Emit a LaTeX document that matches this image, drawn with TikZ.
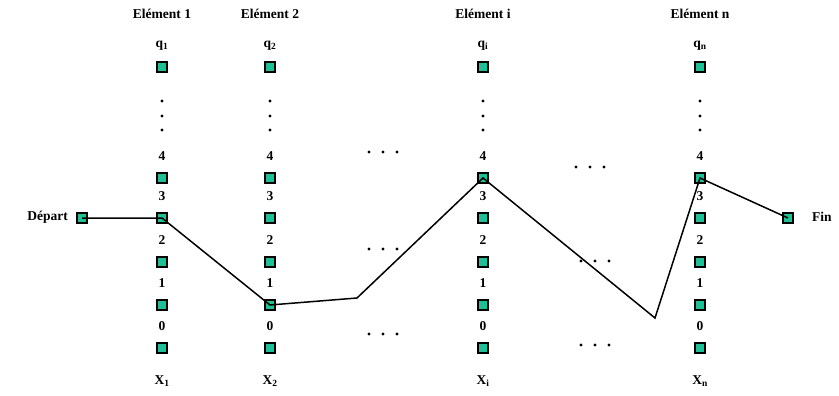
\documentclass[tikz,border=0pt]{standalone}
\usepackage{fontspec}
\setmainfont{Liberation Serif}
\definecolor{sqfill}{RGB}{32,192,150}
\begin{document}
\begin{tikzpicture}[x=1pt,y=-1pt,
  sq/.style={draw=black,line width=2pt,fill=sqfill,minimum size=10.5pt,inner sep=0pt},
  lab/.style={font=\bfseries\fontsize{13.5}{15}\selectfont,inner sep=0pt},
  dotdot/.style={fill=black,circle,inner sep=0pt,minimum size=3.4pt},
  path/.style={line width=1.5pt,black}]
\useasboundingbox (0,0) rectangle (839,396);
% columns
\foreach \c/\x/\t/\s in {a/162/1/1, b/270/2/2, i/483/i/i, n/700/n/n}{
  \node[lab] (\c-head) at (\x,14) {Elément \t};
  \node[lab] (\c-q) at (\x,46) {q$_{\mathbf{\s}}$};
  \node[sq] (\c-top) at (\x,67) {};
  \node[dotdot] (\c-d1) at (\x,101) {};
  \node[dotdot] (\c-d2) at (\x,116) {};
  \node[dotdot] (\c-d3) at (\x,130) {};
  \node[lab] (\c-X) at (\x,381) {X$_{\mathbf{\s}}$};
  \foreach \k/\y in {4/178,3/218,2/262,1/305,0/348}{
    \node[lab] (\c-l\k) at (\x,\y-22) {\k};
    \node[sq] (\c-\k) at (\x,\y) {};
  }
}
% ellipsis between columns
\foreach \n/\x/\y in {e1/383/152, e2/383/249, e3/383/334, e4/590/167, e5/595/261, e6/595/345}{
  \node (\n) at (\x,\y) {};
  \foreach \dx in {-14,0,14}{
    \fill (\x+\dx,\y) circle (1.7pt);
  }
}
% start and end
\node[sq] (dep) at (82,218) {};
\node[lab,anchor=east] (deplab) at (68,217) {Départ};
\node[sq] (fin) at (788,218) {};
\node[lab,anchor=west] (finlab) at (812,217) {Fin};
\coordinate (m1) at (357,298);
\coordinate (m2) at (655,318);
% path
\draw[path] (dep.center) -- (a-3.center) -- (b-1.center) -- (m1) -- (i-4.center)
  -- (m2) -- (n-4.center) -- (fin.center);
\end{tikzpicture}
\end{document}
